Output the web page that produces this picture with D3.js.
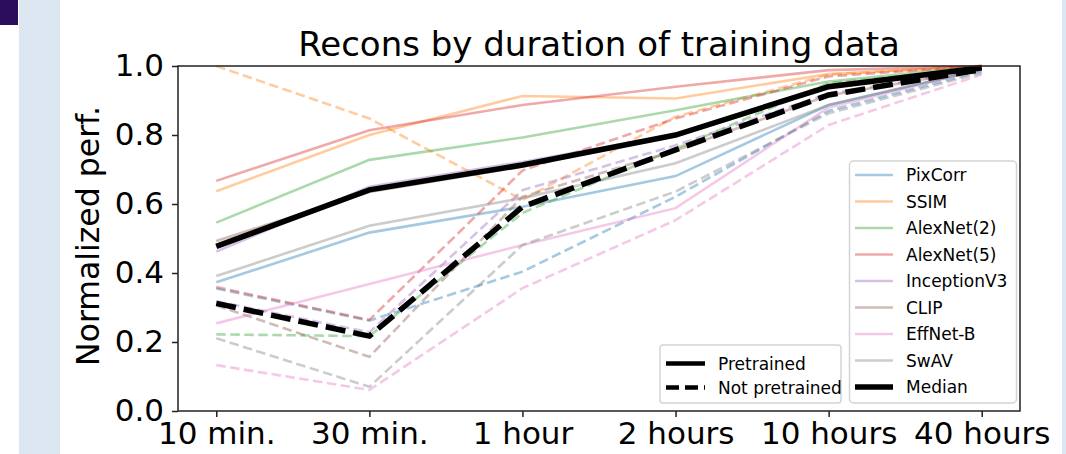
<!DOCTYPE html>
<html>
<head>
<meta charset="utf-8">
<script src="https://cdn.jsdelivr.net/npm/d3@7"></script>
<style>
  html, body { margin: 0; padding: 0; background: #fff; }
  svg { display: block; }
  text { font-family: "DejaVu Sans", sans-serif; fill: #000; }
</style>
</head>
<body>
<svg id="chart" width="1066" height="454"></svg>
<script>
// Recons by duration of training data — normalized perf. per metric.

const durations = ["10 min.", "30 min.", "1 hour", "2 hours", "10 hours", "40 hours"];
const metrics = ["PixCorr", "SSIM", "AlexNet(2)", "AlexNet(5)", "InceptionV3", "CLIP", "EffNet-B", "SwAV"];
const colors = ["#1f77b4", "#ff7f0e", "#2ca02c", "#d62728", "#9467bd", "#8c564b", "#e377c2", "#7f7f7f"];
const yTicks = [0.0, 0.2, 0.4, 0.6, 0.8, 1.0];

// pretrained (solid lines)
const pretrained = [
    [0.373, 0.517, 0.592, 0.681, 0.887, 0.990],  // PixCorr
    [0.637, 0.800, 0.913, 0.906, 0.977, 1.000],  // SSIM
    [0.546, 0.728, 0.793, 0.872, 0.955, 1.000],  // AlexNet(2)
    [0.667, 0.814, 0.887, 0.940, 0.988, 1.000],  // AlexNet(5)
    [0.462, 0.650, 0.722, 0.802, 0.942, 0.995],  // InceptionV3
    [0.493, 0.635, 0.708, 0.798, 0.946, 0.995],  // CLIP
    [0.254, 0.368, 0.481, 0.588, 0.880, 0.990],  // EffNet-B
    [0.391, 0.537, 0.617, 0.718, 0.887, 0.990]   // SwAV
];
const medianPretrained = [0.477, 0.641, 0.713, 0.800, 0.940, 0.995];

// not pretrained (dashed lines)
const notPretrained = [
    [0.355, 0.262, 0.404, 0.621, 0.870, 0.985],  // PixCorr
    [1.000, 0.848, 0.612, 0.853, 0.975, 1.000],  // SSIM
    [0.222, 0.217, 0.574, 0.760, 0.950, 0.995],  // AlexNet(2)
    [0.359, 0.264, 0.697, 0.848, 0.970, 1.000],  // AlexNet(5)
    [0.318, 0.228, 0.640, 0.770, 0.920, 0.990],  // InceptionV3
    [0.306, 0.157, 0.621, 0.755, 0.915, 0.990],  // CLIP
    [0.133, 0.061, 0.356, 0.553, 0.829, 0.975],  // EffNet-B
    [0.211, 0.070, 0.481, 0.636, 0.863, 0.980]   // SwAV
];
const medianNotPretrained = [0.312, 0.217, 0.592, 0.757, 0.916, 0.990];

const svg = d3.select("#chart");

// slide background bits
svg.append("rect").attr("x", 0).attr("y", 0).attr("width", 18).attr("height", 25).attr("fill", "#2c0c5c");
svg.append("rect").attr("x", 19).attr("y", 0).attr("width", 41).attr("height", 454).attr("fill", "#dde7f2");
svg.append("rect").attr("x", 1062).attr("y", 0).attr("width", 4).attr("height", 454).attr("fill", "#dde7f2");

const plotL = 178, plotR = 1020, plotT = 66, plotB = 411;

const x = d3.scalePoint().domain(durations).range([plotL, plotR]).padding(0.25);
const y = d3.scaleLinear().domain([0, 1]).range([plotB, plotT]);

const line = d3.line()
    .x((d, i) => x(durations[i]))
    .y(d => y(d));

const g = svg.append("g");

// metric lines
metrics.forEach((m, k) => {
    g.append("path")
        .attr("d", line(pretrained[k]))
        .attr("fill", "none")
        .attr("stroke", colors[k])
        .attr("stroke-opacity", 0.4)
        .attr("stroke-width", 2.6);
    g.append("path")
        .attr("d", line(notPretrained[k]))
        .attr("fill", "none")
        .attr("stroke", colors[k])
        .attr("stroke-opacity", 0.4)
        .attr("stroke-width", 2.6)
        .attr("stroke-dasharray", "9.5,4.5");
});

// medians
g.append("path")
    .attr("d", line(medianPretrained))
    .attr("fill", "none")
    .attr("stroke", "#000")
    .attr("stroke-width", 5.5);
g.append("path")
    .attr("d", line(medianNotPretrained))
    .attr("fill", "none")
    .attr("stroke", "#000")
    .attr("stroke-width", 5.5)
    .attr("stroke-dasharray", "20,8");

// frame
svg.append("rect")
    .attr("x", plotL).attr("y", plotT)
    .attr("width", plotR - plotL).attr("height", plotB - plotT)
    .attr("fill", "none").attr("stroke", "#222").attr("stroke-width", 1.5);

// axes
const xAxis = svg.append("g")
    .attr("transform", `translate(0,${plotB})`)
    .call(d3.axisBottom(x).tickSize(6).tickPadding(5));
const yAxis = svg.append("g")
    .attr("transform", `translate(${plotL},0)`)
    .call(d3.axisLeft(y).tickValues(yTicks).tickFormat(d3.format(".1f")).tickSize(6).tickPadding(8));

[xAxis, yAxis].forEach(a => {
    a.select(".domain").remove();
    a.selectAll(".tick line").attr("stroke", "#222").attr("stroke-width", 1.5);
    a.selectAll(".tick text")
        .attr("font-family", "DejaVu Sans")
        .attr("font-size", 31)
        .attr("fill", "#000");
});

// title and y label
svg.append("text")
    .attr("x", (plotL + plotR) / 2)
    .attr("y", 56)
    .attr("text-anchor", "middle")
    .attr("font-size", 34)
    .text("Recons by duration of training data");

svg.append("text")
    .attr("transform", "translate(99,236) rotate(-90)")
    .attr("text-anchor", "middle")
    .attr("font-size", 31.5)
    .text("Normalized perf.");

// metric legend
const leg = svg.append("g");
leg.append("rect")
    .attr("x", 849.5).attr("y", 161)
    .attr("width", 167).attr("height", 242)
    .attr("rx", 4)
    .attr("fill", "#fff").attr("fill-opacity", 0.85)
    .attr("stroke", "#d4d4d4").attr("stroke-width", 1.5);

const legItems = metrics.map((m, k) => ({ label: m, color: colors[k], median: false }))
    .concat([{ label: "Median", color: "#000", median: true }]);

legItems.forEach((d, i) => {
    const yy = 175 + i * 26.5;
    leg.append("line")
        .attr("x1", 855).attr("x2", 893)
        .attr("y1", yy).attr("y2", yy)
        .attr("stroke", d.color)
        .attr("stroke-opacity", d.median ? 1 : 0.4)
        .attr("stroke-width", d.median ? 5.5 : 2.6);
    leg.append("text")
        .attr("x", 906).attr("y", yy)
        .attr("dy", "0.36em")
        .attr("font-size", 17)
        .text(d.label);
});

// pretrained / not pretrained legend
const leg2 = svg.append("g");
leg2.append("rect")
    .attr("x", 660).attr("y", 345)
    .attr("width", 181).attr("height", 58)
    .attr("rx", 3)
    .attr("fill", "#fff").attr("fill-opacity", 0.85)
    .attr("stroke", "#d4d4d4").attr("stroke-width", 1.5);

const styleItems = [
    { label: "Pretrained", dash: null },
    { label: "Not pretrained", dash: "13,6" }
];
styleItems.forEach((d, i) => {
    const yy = 363.5 + i * 24;
    leg2.append("line")
        .attr("x1", 666).attr("x2", 705)
        .attr("y1", yy).attr("y2", yy)
        .attr("stroke", "#000")
        .attr("stroke-width", 4.5)
        .attr("stroke-dasharray", d.dash);
    leg2.append("text")
        .attr("x", 718).attr("y", yy)
        .attr("dy", "0.36em")
        .attr("font-family", "Liberation Sans, Arial, sans-serif")
        .attr("font-size", 17)
        .text(d.label);
});
</script>
</body>
</html>
